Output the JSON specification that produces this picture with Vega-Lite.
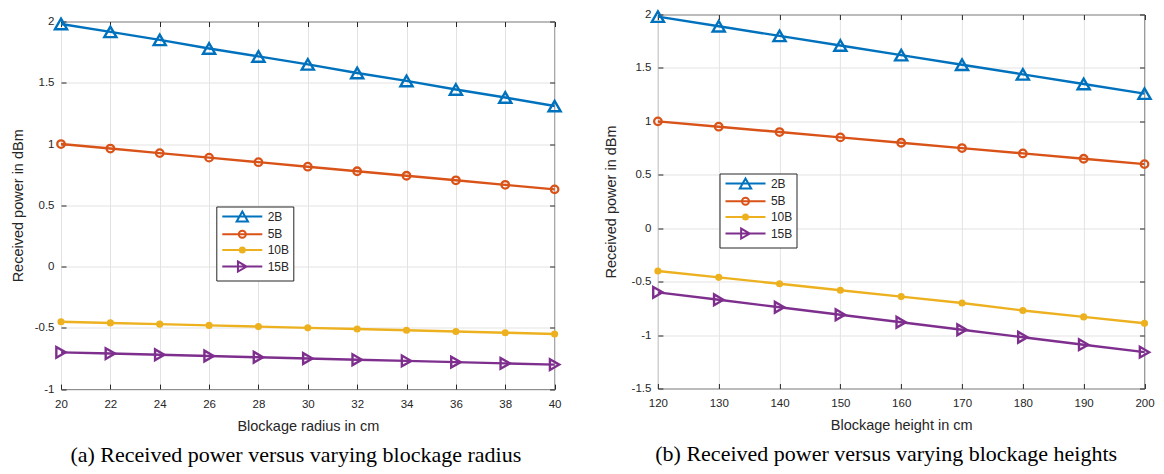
{
  "$schema": "https://vega.github.io/schema/vega-lite/v6.json",
  "background": "white",
  "padding": {"left": 9, "top": 5.5, "right": 5, "bottom": 5},
  "config": {
    "font": "Liberation Sans",
    "view": {"stroke": "#262626", "strokeWidth": 1},
    "axis": {
      "domain": false,
      "grid": true,
      "gridColor": "#e3e3e3",
      "gridWidth": 1,
      "ticks": true,
      "tickColor": "#262626",
      "tickSize": -5,
      "tickWidth": 1,
      "labelFont": "Liberation Sans",
      "labelFontSize": 11.5,
      "labelColor": "#262626",
      "labelFlush": false,
      "labelOverlap": false,
      "titleFont": "Liberation Sans",
      "titleFontSize": 14.5,
      "titleFontWeight": "normal",
      "titleColor": "#262626"
    }
  },
  "datasets": {
    "radius": [
      {"radius": 20, "series": "2B", "power": 1.98}, {"radius": 22, "series": "2B", "power": 1.915}, {"radius": 24, "series": "2B", "power": 1.85}, {"radius": 26, "series": "2B", "power": 1.78}, {"radius": 28, "series": "2B", "power": 1.715}, {"radius": 30, "series": "2B", "power": 1.65}, {"radius": 32, "series": "2B", "power": 1.58}, {"radius": 34, "series": "2B", "power": 1.515}, {"radius": 36, "series": "2B", "power": 1.445}, {"radius": 38, "series": "2B", "power": 1.38}, {"radius": 40, "series": "2B", "power": 1.31},
      {"radius": 20, "series": "5B", "power": 1.0}, {"radius": 22, "series": "5B", "power": 0.963}, {"radius": 24, "series": "5B", "power": 0.926}, {"radius": 26, "series": "5B", "power": 0.889}, {"radius": 28, "series": "5B", "power": 0.852}, {"radius": 30, "series": "5B", "power": 0.815}, {"radius": 32, "series": "5B", "power": 0.778}, {"radius": 34, "series": "5B", "power": 0.741}, {"radius": 36, "series": "5B", "power": 0.704}, {"radius": 38, "series": "5B", "power": 0.667}, {"radius": 40, "series": "5B", "power": 0.63},
      {"radius": 20, "series": "10B", "power": -0.45}, {"radius": 22, "series": "10B", "power": -0.46}, {"radius": 24, "series": "10B", "power": -0.47}, {"radius": 26, "series": "10B", "power": -0.48}, {"radius": 28, "series": "10B", "power": -0.49}, {"radius": 30, "series": "10B", "power": -0.5}, {"radius": 32, "series": "10B", "power": -0.51}, {"radius": 34, "series": "10B", "power": -0.52}, {"radius": 36, "series": "10B", "power": -0.53}, {"radius": 38, "series": "10B", "power": -0.54}, {"radius": 40, "series": "10B", "power": -0.55},
      {"radius": 20, "series": "15B", "power": -0.7}, {"radius": 22, "series": "15B", "power": -0.71}, {"radius": 24, "series": "15B", "power": -0.72}, {"radius": 26, "series": "15B", "power": -0.73}, {"radius": 28, "series": "15B", "power": -0.74}, {"radius": 30, "series": "15B", "power": -0.75}, {"radius": 32, "series": "15B", "power": -0.76}, {"radius": 34, "series": "15B", "power": -0.77}, {"radius": 36, "series": "15B", "power": -0.78}, {"radius": 38, "series": "15B", "power": -0.79}, {"radius": 40, "series": "15B", "power": -0.8}
    ],
    "height": [
      {"height": 120, "series": "2B", "power": 1.98}, {"height": 130, "series": "2B", "power": 1.89}, {"height": 140, "series": "2B", "power": 1.8}, {"height": 150, "series": "2B", "power": 1.71}, {"height": 160, "series": "2B", "power": 1.62}, {"height": 170, "series": "2B", "power": 1.53}, {"height": 180, "series": "2B", "power": 1.44}, {"height": 190, "series": "2B", "power": 1.35}, {"height": 200, "series": "2B", "power": 1.26},
      {"height": 120, "series": "5B", "power": 1.0}, {"height": 130, "series": "5B", "power": 0.95}, {"height": 140, "series": "5B", "power": 0.9}, {"height": 150, "series": "5B", "power": 0.85}, {"height": 160, "series": "5B", "power": 0.8}, {"height": 170, "series": "5B", "power": 0.75}, {"height": 180, "series": "5B", "power": 0.7}, {"height": 190, "series": "5B", "power": 0.65}, {"height": 200, "series": "5B", "power": 0.6},
      {"height": 120, "series": "10B", "power": -0.4}, {"height": 130, "series": "10B", "power": -0.46}, {"height": 140, "series": "10B", "power": -0.52}, {"height": 150, "series": "10B", "power": -0.58}, {"height": 160, "series": "10B", "power": -0.64}, {"height": 170, "series": "10B", "power": -0.7}, {"height": 180, "series": "10B", "power": -0.77}, {"height": 190, "series": "10B", "power": -0.83}, {"height": 200, "series": "10B", "power": -0.89},
      {"height": 120, "series": "15B", "power": -0.6}, {"height": 130, "series": "15B", "power": -0.67}, {"height": 140, "series": "15B", "power": -0.74}, {"height": 150, "series": "15B", "power": -0.81}, {"height": 160, "series": "15B", "power": -0.88}, {"height": 170, "series": "15B", "power": -0.95}, {"height": 180, "series": "15B", "power": -1.02}, {"height": 190, "series": "15B", "power": -1.09}, {"height": 200, "series": "15B", "power": -1.16}
    ]
  },
  "bounds": "full",
  "spacing": 26.9,
  "resolve": {"scale": {"color": "independent", "shape": "independent"}, "legend": {"color": "independent", "shape": "independent"}},
  "hconcat": [
    {
      "bounds": "flush",
      "spacing": 0,
      "resolve": {"scale": {"color": "independent", "shape": "independent"}, "legend": {"color": "independent", "shape": "independent"}},
      "vconcat": [
        {"width": 1, "height": 6.6, "data": {"values": []}, "mark": {"type": "point"}, "view": {"stroke": null}},
        {
          "width": 493.6,
          "height": 367.6,
          "data": {"name": "radius"},
          "title": {"text": "(a) Received power versus varying blockage radius", "orient": "bottom", "anchor": "middle", "frame": "group", "font": "Liberation Serif", "fontSize": 22, "fontWeight": "normal", "color": "#000000", "baseline": "alphabetic", "offset": 29, "dx": -12},
          "resolve": {"axis": {"x": "independent", "y": "independent"}},
          "layer": [
            {
              "mark": {"type": "line", "strokeWidth": 2.4},
              "encoding": {
                "x": {"field": "radius", "type": "quantitative", "scale": {"domain": [20, 40], "nice": false, "zero": false},
                      "axis": {"orient": "bottom", "values": [20, 22, 24, 26, 28, 30, 32, 34, 36, 38, 40], "title": "Blockage radius in cm", "labelPadding": 14, "titleY": 41, "titleBaseline": "alphabetic"}},
                "y": {"field": "power", "type": "quantitative", "scale": {"domain": [-1, 2], "nice": false, "zero": false},
                      "axis": {"orient": "left", "values": [-1, -0.5, 0, 0.5, 1, 1.5, 2], "labelExpr": "datum.value + ''", "title": "Received power in dBm", "labelPadding": 12, "titleX": -38.7, "titleBaseline": "alphabetic"}},
                "color": {"field": "series", "type": "nominal",
                          "scale": {"domain": ["2B", "5B", "10B", "15B"], "range": ["#0072BD", "#D95319", "#EDB120", "#7E2F8E"]},
                          "legend": {"orient": "none", "legendX": 155.3, "legendY": 185, "title": null, "direction": "vertical", "fillColor": "#ffffff", "strokeColor": "#262626", "padding": 4, "rowPadding": 0.7, "cornerRadius": 0,
                                     "labelFont": "Liberation Sans", "labelFontSize": 12, "labelColor": "#262626", "labelOffset": 19.4, "symbolOffset": 16, "symbolSize": 100, "symbolStrokeWidth": 2, "symbolOpacity": 1}}
              }
            },
            {
              "transform": [{"filter": "datum.series === '2B'"}],
              "mark": {"type": "point", "shape": "M0,-0.98L1.13,0.98L-1.13,0.98Z", "filled": false, "color": "#0072BD", "opacity": 1, "strokeWidth": 2.4, "size": 115},
              "encoding": {
                "x": {"field": "radius", "type": "quantitative", "axis": {"orient": "top", "labels": false, "grid": false, "title": null, "values": [20, 22, 24, 26, 28, 30, 32, 34, 36, 38, 40]}},
                "y": {"field": "power", "type": "quantitative", "axis": {"orient": "right", "labels": false, "grid": false, "title": null, "values": [-1, -0.5, 0, 0.5, 1, 1.5, 2]}}
              }
            },
            {
              "transform": [{"filter": "datum.series === '5B'"}],
              "mark": {"type": "point", "shape": "M-0.7,0A0.7,0.7,0,1,1,0.7,0A0.7,0.7,0,1,1,-0.7,0Z", "filled": false, "color": "#D95319", "opacity": 1, "strokeWidth": 2.3, "size": 115},
              "encoding": {
                "x": {"field": "radius", "type": "quantitative", "axis": null},
                "y": {"field": "power", "type": "quantitative", "axis": null}
              }
            },
            {
              "transform": [{"filter": "datum.series === '10B'"}],
              "mark": {"type": "point", "shape": "M-0.45,0A0.45,0.45,0,1,1,0.45,0A0.45,0.45,0,1,1,-0.45,0Z", "filled": true, "color": "#EDB120", "stroke": "#EDB120", "opacity": 1, "strokeWidth": 2.3, "size": 115},
              "encoding": {
                "x": {"field": "radius", "type": "quantitative", "axis": null},
                "y": {"field": "power", "type": "quantitative", "axis": null}
              }
            },
            {
              "transform": [{"filter": "datum.series === '15B'"}],
              "mark": {"type": "point", "shape": "M0.87,0L-0.87,-1L-0.87,1Z", "filled": false, "color": "#7E2F8E", "opacity": 1, "strokeWidth": 2.4, "size": 115},
              "encoding": {
                "x": {"field": "radius", "type": "quantitative", "axis": null},
                "y": {"field": "power", "type": "quantitative", "axis": null}
              }
            },
            {
              "mark": {"type": "point", "filled": false, "opacity": 0, "strokeWidth": 2, "size": 100},
              "encoding": {
                "x": {"field": "radius", "type": "quantitative", "axis": null},
                "y": {"field": "power", "type": "quantitative", "axis": null},
                "shape": {"field": "series", "type": "nominal", "legend": null,
                          "scale": {"domain": ["2B", "5B", "10B", "15B"], "range": ["M-4,0L4,0M0,-0.98L1.13,0.98L-1.13,0.98Z", "M-4,0L4,0M-0.7,0A0.7,0.7,0,1,1,0.7,0A0.7,0.7,0,1,1,-0.7,0Z", "M-4,0L4,0M-0.5,0A0.5,0.5,0,1,1,0.5,0A0.5,0.5,0,1,1,-0.5,0ZM-0.25,0A0.25,0.25,0,1,1,0.25,0A0.25,0.25,0,1,1,-0.25,0Z", "M-4,0L4,0M0.87,0L-0.87,-1L-0.87,1Z"]}}
              }
            }
          ]
        }
      ]
    },
    {
      "width": 486.6,
      "height": 374,
      "data": {"name": "height"},
      "title": {"text": "(b) Received power versus varying blockage heights", "orient": "bottom", "anchor": "middle", "frame": "group", "font": "Liberation Serif", "fontSize": 22, "fontWeight": "normal", "color": "#000000", "baseline": "alphabetic", "offset": 29, "dx": -15},
      "resolve": {"axis": {"x": "independent", "y": "independent"}},
      "layer": [
        {
          "mark": {"type": "line", "strokeWidth": 2.4},
          "encoding": {
            "x": {"field": "height", "type": "quantitative", "scale": {"domain": [120, 200], "nice": false, "zero": false},
                  "axis": {"orient": "bottom", "values": [120, 130, 140, 150, 160, 170, 180, 190, 200], "title": "Blockage height in cm", "labelPadding": 14, "titleY": 41, "titleBaseline": "alphabetic"}},
            "y": {"field": "power", "type": "quantitative", "scale": {"domain": [-1.5, 2], "nice": false, "zero": false},
                  "axis": {"orient": "left", "values": [-1.5, -1, -0.5, 0, 0.5, 1, 1.5, 2], "labelExpr": "datum.value + ''", "title": "Received power in dBm", "labelPadding": 12, "titleX": -42.2, "titleBaseline": "alphabetic"}},
            "color": {"field": "series", "type": "nominal",
                      "scale": {"domain": ["2B", "5B", "10B", "15B"], "range": ["#0072BD", "#D95319", "#EDB120", "#7E2F8E"]},
                      "legend": {"orient": "none", "legendX": 61.6, "legendY": 159, "title": null, "direction": "vertical", "fillColor": "#ffffff", "strokeColor": "#262626", "padding": 4, "rowPadding": 0.7, "cornerRadius": 0,
                                 "labelFont": "Liberation Sans", "labelFontSize": 12, "labelColor": "#262626", "labelOffset": 19.4, "symbolOffset": 16, "symbolSize": 100, "symbolStrokeWidth": 2, "symbolOpacity": 1}}
          }
        },
        {
          "transform": [{"filter": "datum.series === '2B'"}],
          "mark": {"type": "point", "shape": "M0,-0.98L1.13,0.98L-1.13,0.98Z", "filled": false, "color": "#0072BD", "opacity": 1, "strokeWidth": 2.4, "size": 115},
          "encoding": {
            "x": {"field": "height", "type": "quantitative", "axis": {"orient": "top", "labels": false, "grid": false, "title": null, "values": [120, 130, 140, 150, 160, 170, 180, 190, 200]}},
            "y": {"field": "power", "type": "quantitative", "axis": {"orient": "right", "labels": false, "grid": false, "title": null, "values": [-1.5, -1, -0.5, 0, 0.5, 1, 1.5, 2]}}
          }
        },
        {
          "transform": [{"filter": "datum.series === '5B'"}],
          "mark": {"type": "point", "shape": "M-0.7,0A0.7,0.7,0,1,1,0.7,0A0.7,0.7,0,1,1,-0.7,0Z", "filled": false, "color": "#D95319", "opacity": 1, "strokeWidth": 2.3, "size": 115},
          "encoding": {
            "x": {"field": "height", "type": "quantitative", "axis": null},
            "y": {"field": "power", "type": "quantitative", "axis": null}
          }
        },
        {
          "transform": [{"filter": "datum.series === '10B'"}],
          "mark": {"type": "point", "shape": "M-0.45,0A0.45,0.45,0,1,1,0.45,0A0.45,0.45,0,1,1,-0.45,0Z", "filled": true, "color": "#EDB120", "stroke": "#EDB120", "opacity": 1, "strokeWidth": 2.3, "size": 115},
          "encoding": {
            "x": {"field": "height", "type": "quantitative", "axis": null},
            "y": {"field": "power", "type": "quantitative", "axis": null}
          }
        },
        {
          "transform": [{"filter": "datum.series === '15B'"}],
          "mark": {"type": "point", "shape": "M0.87,0L-0.87,-1L-0.87,1Z", "filled": false, "color": "#7E2F8E", "opacity": 1, "strokeWidth": 2.4, "size": 115},
          "encoding": {
            "x": {"field": "height", "type": "quantitative", "axis": null},
            "y": {"field": "power", "type": "quantitative", "axis": null}
          }
        },
        {
          "mark": {"type": "point", "filled": false, "opacity": 0, "strokeWidth": 2, "size": 100},
          "encoding": {
            "x": {"field": "height", "type": "quantitative", "axis": null},
            "y": {"field": "power", "type": "quantitative", "axis": null},
            "shape": {"field": "series", "type": "nominal", "legend": null,
                      "scale": {"domain": ["2B", "5B", "10B", "15B"], "range": ["M-4,0L4,0M0,-0.98L1.13,0.98L-1.13,0.98Z", "M-4,0L4,0M-0.7,0A0.7,0.7,0,1,1,0.7,0A0.7,0.7,0,1,1,-0.7,0Z", "M-4,0L4,0M-0.5,0A0.5,0.5,0,1,1,0.5,0A0.5,0.5,0,1,1,-0.5,0ZM-0.25,0A0.25,0.25,0,1,1,0.25,0A0.25,0.25,0,1,1,-0.25,0Z", "M-4,0L4,0M0.87,0L-0.87,-1L-0.87,1Z"]}}
          }
        }
      ]
    }
  ]
}
